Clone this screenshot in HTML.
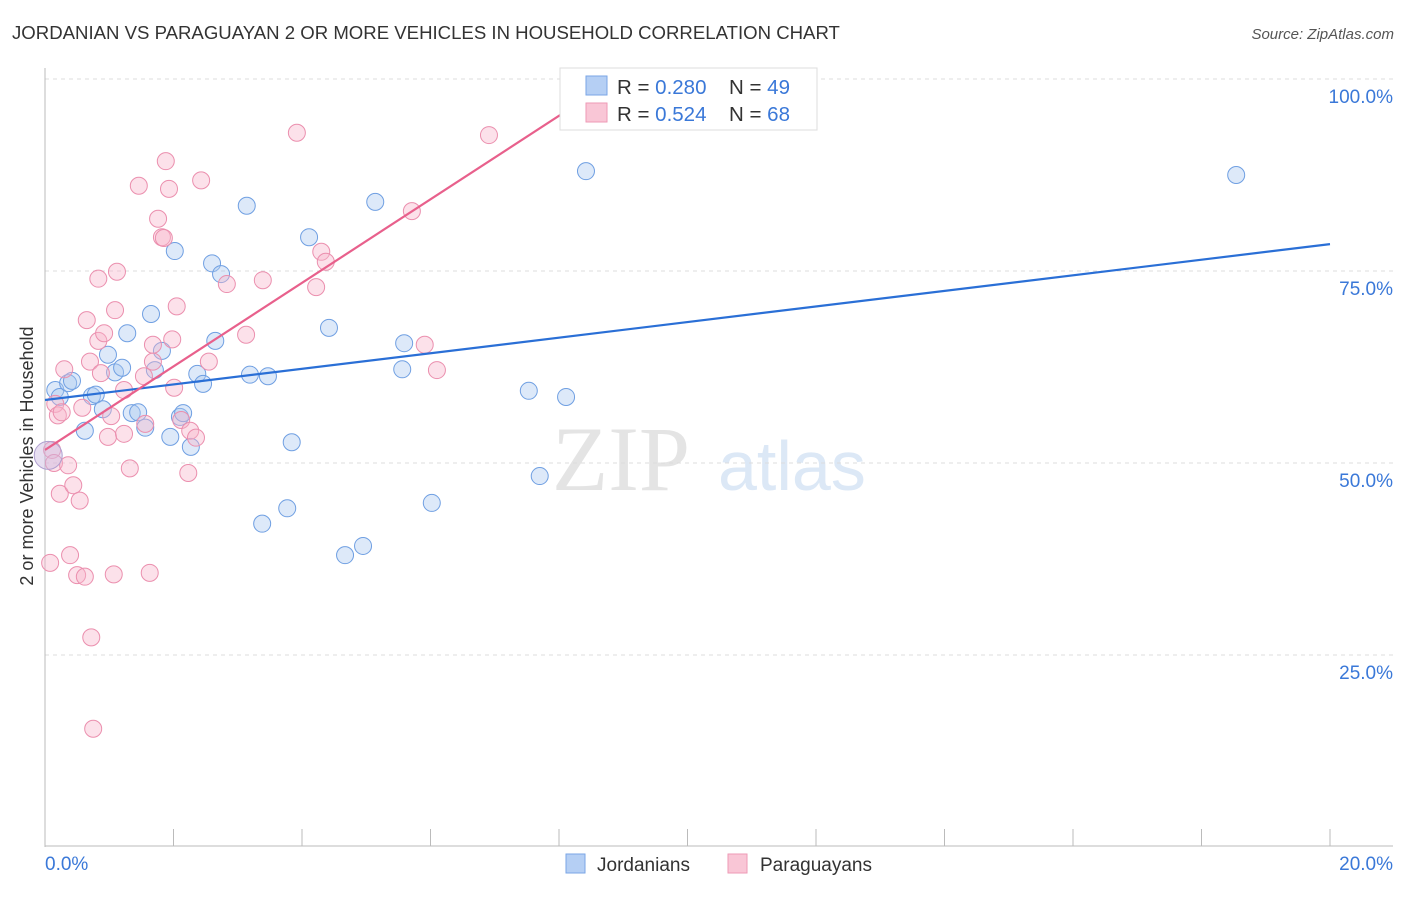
<!DOCTYPE html>
<html><head><meta charset="utf-8"><style>
body{margin:0;background:#fff;font-family:"Liberation Sans",sans-serif;}
</style></head><body>
<svg id="chart" width="1406" height="892" xmlns="http://www.w3.org/2000/svg" font-family="Liberation Sans, sans-serif">
<text x="12" y="39" font-size="18.6" fill="#333">JORDANIAN VS PARAGUAYAN 2 OR MORE VEHICLES IN HOUSEHOLD CORRELATION CHART</text>
<text x="1394" y="39" font-size="15" fill="#555" font-style="italic" text-anchor="end">Source: ZipAtlas.com</text>
<text x="0" y="0" font-size="18" fill="#333" text-anchor="middle" transform="translate(33,456) rotate(-90)">2 or more Vehicles in Household</text>
<text x="552" y="490" font-size="92" fill="#e4e4e4" style="font-family:'Liberation Serif',serif">ZIP</text>
<text x="718" y="490" font-size="70" fill="#dce8f6">atlas</text>
<g id="grid"></g><g id="axes"></g><g id="pts"></g><g id="lines"></g>
<g>
<rect x="560" y="68" width="257" height="62" fill="#fff" stroke="#ddd"/>
<rect x="586" y="76" width="21" height="19" fill="#b5cff4" stroke="#7aa6e6"/>
<rect x="586" y="103" width="21" height="19" fill="#f9c6d6" stroke="#ee9ab6"/>
<text x="617" y="94" font-size="20.5" fill="#333">R = <tspan fill="#3a78d8">0.280</tspan></text>
<text x="729" y="94" font-size="20.5" fill="#333">N = <tspan fill="#3a78d8">49</tspan></text>
<text x="617" y="121" font-size="20.5" fill="#333">R = <tspan fill="#3a78d8">0.524</tspan></text>
<text x="729" y="121" font-size="20.5" fill="#333">N = <tspan fill="#3a78d8">68</tspan></text>
</g>
<g>
<rect x="566" y="854" width="19" height="19" fill="#b5cff4" stroke="#7aa6e6"/>
<text x="597" y="871" font-size="19" fill="#333">Jordanians</text>
<rect x="728" y="854" width="19" height="19" fill="#f9c6d6" stroke="#ee9ab6"/>
<text x="760" y="871" font-size="19" fill="#333">Paraguayans</text>
</g>
</svg>
<script>
const yTicks=[25,50,75,100];
const yTickLabels=["25.0%","50.0%","75.0%","100.0%"];
const xTicks=[0,2,4,6,8,10,12,14,16,18,20];
const blueX=[0.16,0.23,0.36,0.42,0.62,0.73,0.79,0.90,0.98,1.09,1.20,1.28,1.35,1.45,1.56,1.65,1.71,1.82,1.95,2.02,2.10,2.15,2.27,2.37,2.46,2.60,2.65,2.74,3.14,3.19,3.38,3.47,3.77,3.84,4.11,4.42,4.67,4.95,5.14,5.59,5.56,6.02,7.53,7.70,8.11,8.42,18.54];
const blueY=[59.5,58.6,60.4,60.7,54.2,58.7,58.9,57.0,64.1,61.8,62.4,66.9,56.5,56.6,54.6,69.4,62.1,64.6,53.4,77.6,56.0,56.5,52.1,61.6,60.3,76.0,65.9,74.6,83.5,61.5,42.1,61.3,44.1,52.7,79.4,67.6,38.0,39.2,84.0,65.6,62.2,44.8,59.4,48.3,58.6,88.0,87.5];
const pinkX=[0.08,0.11,0.14,0.16,0.20,0.26,0.30,0.36,0.23,0.39,0.44,0.50,0.54,0.58,0.62,0.65,0.70,0.72,0.75,0.83,0.83,0.87,0.92,0.98,1.03,1.07,1.09,1.12,1.23,1.23,1.32,1.46,1.54,1.56,1.63,1.68,1.68,1.76,1.82,1.85,1.88,1.93,1.98,2.01,2.05,2.12,2.23,2.26,2.35,2.43,2.55,2.83,3.13,3.39,3.92,4.22,4.30,4.37,5.71,5.91,6.10,6.91];
const pinkY=[37.0,51.7,50.0,57.7,56.2,56.6,62.2,49.7,46.0,38.0,47.1,35.4,45.1,57.2,35.2,68.6,63.2,27.3,15.4,74.0,65.9,61.7,66.9,53.4,56.1,35.5,69.9,74.9,59.5,53.8,49.3,86.1,61.3,55.1,35.7,65.4,63.2,81.8,79.4,79.3,89.3,85.7,66.1,59.8,70.4,55.6,48.7,54.2,53.3,86.8,63.2,73.3,66.7,73.8,93.0,72.9,77.5,76.2,82.8,65.4,62.1,92.7];
const blueLine=[[0,58.2],[20,78.5]];
const pinkLine=[[0,51.7],[8.2,96.3]];
const NS="http://www.w3.org/2000/svg";
const sx=v=>45+v*64.25, sy=v=>847-v*7.68;
function mk(t,a,p){const e=document.createElementNS(NS,t);for(const k in a)e.setAttribute(k,a[k]);p.appendChild(e);return e;}
const grid=document.getElementById('grid'),axes=document.getElementById('axes'),pts=document.getElementById('pts'),lines=document.getElementById('lines');
yTicks.forEach((v,i)=>{
 const l=mk('line',{x1:45,x2:1393,y1:sy(v),y2:sy(v),stroke:'#ddd','stroke-dasharray':'4,4'},grid);
 
 
 const t=mk('text',{x:1393,y:sy(v)+24,'font-size':19,fill:'#3a78d8','text-anchor':'end'},axes);
 t.textContent=yTickLabels[i];
 
 
});
const ya=mk('line',{x1:45,x2:45,y1:68,y2:847,stroke:'#bbb'},axes);


const xa=mk('line',{x1:45,x2:1393,y1:846,y2:846,stroke:'#bbb'},axes);


xTicks.forEach(v=>{
 const l=mk('line',{x1:sx(v),x2:sx(v),y1:829,y2:846,stroke:'#bbb'},axes);
 
 
});
const xl0=mk('text',{x:45,y:870,'font-size':19,fill:'#3a78d8'},axes);xl0.textContent='0.0%';


const xl1=mk('text',{x:1393,y:870,'font-size':19,fill:'#3a78d8','text-anchor':'end'},axes);xl1.textContent='20.0%';


function dots(X,Y,fill,stroke,name){X.forEach((x,i)=>{
 const c=mk('circle',{cx:sx(x),cy:sy(Y[i]),r:8.5,fill:fill,'fill-opacity':0.4,stroke:stroke,'stroke-width':1},pts);
 
 
});}
dots(blueX,blueY,'#a9c7f0','#6f9fe2','point-jordanian');
dots(pinkX,pinkY,'#f7b5ca','#eb8fae','point-paraguayan');
const big=mk('circle',{cx:sx(0.05),cy:sy(51),r:14,fill:'#c9b9e0','fill-opacity':0.45,stroke:'#b0a0d0'},pts);


const bl=mk('line',{x1:sx(blueLine[0][0]),y1:sy(blueLine[0][1]),x2:sx(blueLine[1][0]),y2:sy(blueLine[1][1]),stroke:'#2a6fd6','stroke-width':2.2},lines);


const pl=mk('line',{x1:sx(pinkLine[0][0]),y1:sy(pinkLine[0][1]),x2:sx(pinkLine[1][0]),y2:sy(pinkLine[1][1]),stroke:'#e8608c','stroke-width':2.2},lines);


</script>
</body></html>
